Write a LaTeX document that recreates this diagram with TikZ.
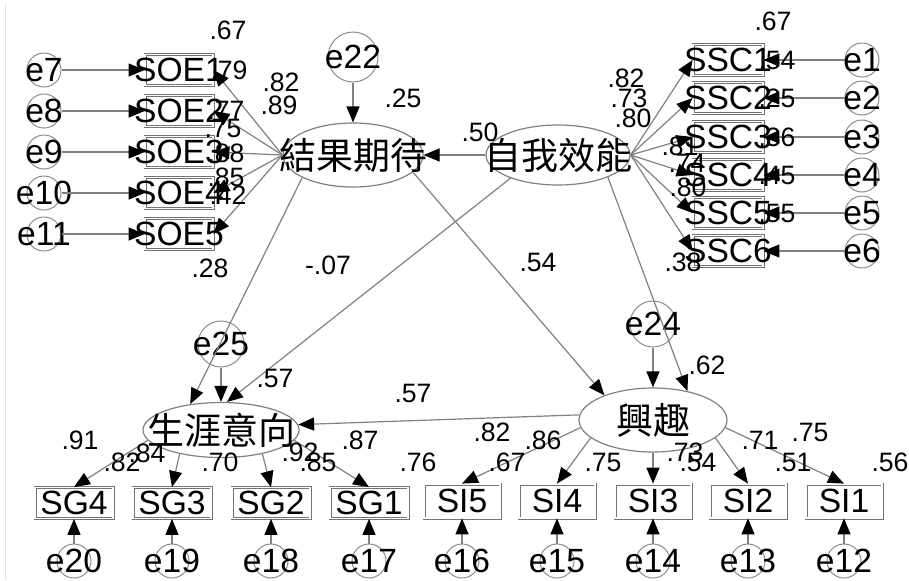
\documentclass[tikz,border=0pt]{standalone}
\usepackage{fontspec}
\setmainfont{Liberation Sans}
\newfontfamily\cjkfont{Noto Sans CJK TC}
\usetikzlibrary{arrows.meta,shapes.geometric}
\def\ctext#1{\makebox[0pt]{#1}}

\begin{document}
\begin{tikzpicture}[x=0.5pt, y=-0.5pt,
		arr/.style={draw=black!50, line width=0.6pt, -{Triangle[length=8pt,width=6.5pt,color=black]}},
		lat/.style={ellipse, draw=black!50, line width=0.6pt, inner sep=0pt, font=\cjkfont\fontsize{18.5}{18.5}\selectfont},
		obs/.style={rectangle, draw=black!55, double=white, double distance=0.7pt, line width=0.4pt, inner sep=0pt, minimum width=34pt, minimum height=15.5pt, font=\fontsize{16.8}{17}\selectfont},
		err/.style={circle, draw=black!45, line width=0.5pt, inner sep=0pt, minimum size=17pt, font=\fontsize{16.8}{17}\selectfont},
		coef/.style={inner sep=0pt, font=\fontsize{13.3}{13.3}\selectfont}]
			%%%%% START %%%%%
			\useasboundingbox (0,0) rectangle (909,580);
			\draw[black!12] (5,4) -- (5,580);
			
			\node[lat, minimum width=70pt, minimum height=32pt] (jg) at (353,155) {\ctext{結果期待}};
			\node[lat, minimum width=72pt, minimum height=30pt] (zw) at (558,155) {\ctext{自我效能}};
			\node[lat, minimum width=78pt, minimum height=27.5pt] (sy) at (221,430) {\ctext{生涯意向}};
			\node[lat, minimum width=74pt, minimum height=32pt] (xq) at (653,420) {\ctext{興趣}};
			
			\node[err, minimum size=25pt] (e22) at (353,57) {\ctext{e22}};
			\node[err, minimum size=23pt] (e24) at (653,324) {\ctext{e24}};
			\node[err, minimum size=23pt] (e25) at (221,344) {\ctext{e25}};
			
			\node[obs] (soe1) at (179,70) {\ctext{SOE1}};
			\node[obs] (soe2) at (179,111) {\ctext{SOE2}};
			\node[obs] (soe3) at (179,152) {\ctext{SOE3}};
			\node[obs] (soe4) at (179,193) {\ctext{SOE4}};
			\node[obs] (soe5) at (179,234) {\ctext{SOE5}};
			\node[err] (e7) at (44,70) {\ctext{e7}};
			\node[err] (e8) at (44,111) {\ctext{e8}};
			\node[err] (e9) at (44,152) {\ctext{e9}};
			\node[err] (e10) at (44,193) {\ctext{e10}};
			\node[err] (e11) at (44,234) {\ctext{e11}};
			
			\node[obs, minimum width=35pt] (ssc1) at (728,60) {\ctext{SSC1}};
			\node[obs, minimum width=35pt] (ssc2) at (728,98) {\ctext{SSC2}};
			\node[obs, minimum width=35pt] (ssc3) at (728,137) {\ctext{SSC3}};
			\node[obs, minimum width=35pt] (ssc4) at (728,175) {\ctext{SSC4}};
			\node[obs, minimum width=35pt] (ssc5) at (728,213) {\ctext{SSC5}};
			\node[obs, minimum width=35pt] (ssc6) at (728,251) {\ctext{SSC6}};
			\node[err] (e1) at (862,60) {\ctext{e1}};
			\node[err] (e2) at (862,98) {\ctext{e2}};
			\node[err] (e3) at (862,137) {\ctext{e3}};
			\node[err] (e4) at (862,175) {\ctext{e4}};
			\node[err] (e5) at (862,213) {\ctext{e5}};
			\node[err] (e6) at (862,251) {\ctext{e6}};
			
			\node[obs, minimum width=39pt] (sg4) at (74,503) {\ctext{SG4}};
			\node[obs, minimum width=39pt] (sg3) at (172,503) {\ctext{SG3}};
			\node[obs, minimum width=39pt] (sg2) at (271,503) {\ctext{SG2}};
			\node[obs, minimum width=39pt] (sg1) at (369,503) {\ctext{SG1}};
			\node[obs, minimum width=38pt, minimum height=17pt] (si5) at (462,501) {\ctext{SI5}};
			\node[obs, minimum width=38pt, minimum height=17pt] (si4) at (557,501) {\ctext{SI4}};
			\node[obs, minimum width=38pt, minimum height=17pt] (si3) at (653,501) {\ctext{SI3}};
			\node[obs, minimum width=38pt, minimum height=17pt] (si2) at (748,501) {\ctext{SI2}};
			\node[obs, minimum width=38pt, minimum height=17pt] (si1) at (844,501) {\ctext{SI1}};
			\node[err] (e20) at (74,561) {\ctext{e20}};
			\node[err] (e19) at (172,561) {\ctext{e19}};
			\node[err] (e18) at (271,561) {\ctext{e18}};
			\node[err] (e17) at (369,561) {\ctext{e17}};
			\node[err] (e16) at (462,561) {\ctext{e16}};
			\node[err] (e15) at (557,561) {\ctext{e15}};
			\node[err] (e14) at (653,561) {\ctext{e14}};
			\node[err] (e13) at (748,561) {\ctext{e13}};
			\node[err] (e12) at (844,561) {\ctext{e12}};
			
			% structural paths
			\draw[arr] (e22) -- (jg);
			\draw[arr] (e24) -- (xq);
			\draw[arr] (e25) -- (sy);
			\draw[arr] (zw.west) -- (jg.east);
			\draw[arr] (jg.204) -- (sy.140);
			\draw[arr] (zw.206) -- (sy.78);
			\draw[arr] (jg.344) -- (xq.153);
			\draw[arr] (zw.336) -- (xq.40);
			\draw[arr] (xq.176) -- (sy.4);
			
			% measurement
			\draw[arr] (e7) -- (soe1);
			\draw[arr] (e8) -- (soe2);
			\draw[arr] (e9) -- (soe3);
			\draw[arr] (e10) -- (soe4);
			\draw[arr] (e11) -- (soe5);
			\draw[arr] (jg.west) -- (soe1.east);
			\draw[arr] (jg.west) -- (soe2.east);
			\draw[arr] (jg.west) -- (soe3.east);
			\draw[arr] (jg.west) -- (soe4.east);
			\draw[arr] (jg.west) -- (soe5.east);
			
			\draw[arr] (e1) -- (ssc1);
			\draw[arr] (e2) -- (ssc2);
			\draw[arr] (e3) -- (ssc3);
			\draw[arr] (e4) -- (ssc4);
			\draw[arr] (e5) -- (ssc5);
			\draw[arr] (e6) -- (ssc6);
			\draw[arr] (zw.east) -- (ssc1.west);
			\draw[arr] (zw.east) -- (ssc2.west);
			\draw[arr] (zw.east) -- (ssc3.west);
			\draw[arr] (zw.east) -- (ssc4.west);
			\draw[arr] (zw.east) -- (ssc5.west);
			\draw[arr] (zw.east) -- (ssc6.west);
			
			\draw[arr] (sy.188) -- (sg4.north);
			\draw[arr] (sy.210) -- (sg3.north);
			\draw[arr] (sy.330) -- (sg2.north);
			\draw[arr] (sy.352) -- (sg1.north);
			\draw[arr] (xq.186) -- (si5.north);
			\draw[arr] (xq.196) -- (si4.north);
			\draw[arr] (xq.south) -- (si3.north);
			\draw[arr] (xq.344) -- (si2.north);
			\draw[arr] (xq.354) -- (si1.north);
			
			\draw[arr] (e20) -- (sg4);
			\draw[arr] (e19) -- (sg3);
			\draw[arr] (e18) -- (sg2);
			\draw[arr] (e17) -- (sg1);
			\draw[arr] (e16) -- (si5);
			\draw[arr] (e15) -- (si4);
			\draw[arr] (e14) -- (si3);
			\draw[arr] (e13) -- (si2);
			\draw[arr] (e12) -- (si1);
			
			% estimates
			\node[coef] (c1) at (228,30) {.67};
			\node[coef] (c2) at (229,70) {.79};
			\node[coef] (c3) at (281,82) {.82};
			\node[coef] (c4) at (279,105) {.89};
			\node[coef] (c5) at (226,110) {.77};
			\node[coef] (c6) at (223,128) {.75};
			\node[coef] (c7) at (226,153) {.88};
			\node[coef] (c8) at (226,177) {.85};
			\node[coef] (c9) at (228,195) {.42};
			\node[coef] (c10) at (210,268) {.28};
			\node[coef] (c11) at (328,265) {-.07};
			\node[coef] (c12) at (538,262) {.54};
			\node[coef] (c13) at (403,98) {.25};
			\node[coef] (c14) at (480,132) {.50};
			
			\node[coef] (c15) at (773,21) {.67};
			\node[coef] (c16) at (777,60) {.54};
			\node[coef] (c17) at (777,98) {.25};
			\node[coef] (c18) at (777,137) {.36};
			\node[coef] (c19) at (777,175) {.45};
			\node[coef] (c20) at (777,213) {.55};
			\node[coef] (c21) at (626,78) {.82};
			\node[coef] (c22) at (629,98) {.73};
			\node[coef] (c23) at (633,118) {.80};
			\node[coef] (c24) at (680,146) {.81};
			\node[coef] (c25) at (687,163) {.74};
			\node[coef] (c26) at (688,187) {.80};
			\node[coef] (c27) at (683,262) {.38};
			
			\node[coef] (c28) at (275,378) {.57};
			\node[coef] (c29) at (413,393) {.57};
			\node[coef] (c30) at (707,365) {.62};
			
			\node[coef] (c31) at (80,440) {.91};
			\node[coef] (c32) at (122,462) {.82};
			\node[coef] (c33) at (147,453) {.84};
			\node[coef] (c34) at (220,462) {.70};
			\node[coef] (c35) at (300,452) {.92};
			\node[coef] (c36) at (318,462) {.85};
			\node[coef] (c37) at (360,440) {.87};
			\node[coef] (c38) at (418,462) {.76};
			
			\node[coef] (c39) at (492,432) {.82};
			\node[coef] (c40) at (543,440) {.86};
			\node[coef] (c41) at (507,462) {.67};
			\node[coef] (c42) at (603,462) {.75};
			\node[coef] (c43) at (685,452) {.73};
			\node[coef] (c44) at (698,462) {.54};
			\node[coef] (c45) at (760,440) {.71};
			\node[coef] (c46) at (810,432) {.75};
			\node[coef] (c47) at (793,462) {.51};
			\node[coef] (c48) at (890,462) {.56};
			%%%%% END %%%%%
\end{tikzpicture}
\end{document}
